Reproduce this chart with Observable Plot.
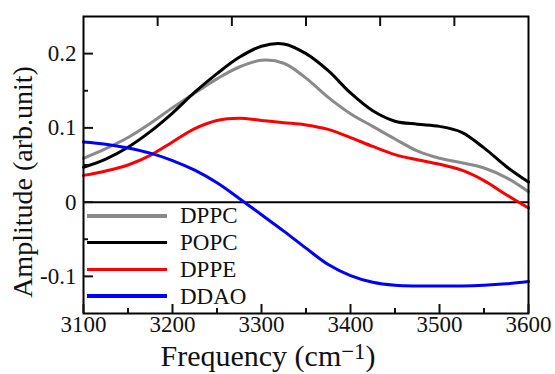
<!DOCTYPE html>
<html><head><meta charset="utf-8">
<script src="https://cdn.jsdelivr.net/npm/d3@7"></script>
<script src="https://cdn.jsdelivr.net/npm/@observablehq/plot@0.6"></script>
<style>
body{margin:0;background:#fff;}
#wrap{position:relative;width:555px;height:374px;font-family:"Liberation Serif","DejaVu Serif","Noto Serif",serif;}
#legend{position:absolute;left:87px;top:202.6px;}
.row{display:flex;align-items:center;height:26.7px;}
.sw{width:80px;height:3.5px;margin-right:13px;}
.lab{font-size:23px;line-height:1;color:#111;}
</style></head><body><div id="wrap"><div id="legend"></div></div>
<script>
const frequency = [3100,3125,3150,3175,3200,3225,3250,3275,3300,3325,3350,3375,3400,3425,3450,3475,3500,3525,3550,3575,3600];
const dppc = [0.059,0.072,0.087,0.106,0.127,0.147,0.166,0.182,0.191,0.187,0.167,0.141,0.119,0.102,0.085,0.069,0.059,0.053,0.046,0.033,0.014];
const popc = [0.047,0.058,0.074,0.095,0.120,0.148,0.173,0.195,0.210,0.213,0.200,0.177,0.147,0.123,0.109,0.105,0.102,0.094,0.073,0.048,0.027];
const dppe = [0.036,0.042,0.050,0.063,0.081,0.099,0.110,0.113,0.110,0.107,0.104,0.098,0.087,0.075,0.064,0.057,0.051,0.043,0.029,0.010,-0.008];
const ddao = [0.081,0.078,0.073,0.066,0.056,0.043,0.026,0.005,-0.017,-0.039,-0.062,-0.084,-0.099,-0.108,-0.112,-0.113,-0.113,-0.113,-0.112,-0.110,-0.107];
const seriesNames = ["DPPC","POPC","DPPE","DDAO"];
const seriesColors = ["#8a8a8a","#000000","#ff0000","#0000ff"];
const seriesValues = [dppc, popc, dppe, ddao];
const xMajorTicks = [3100,3200,3300,3400,3500,3600];
const xMinorTicks = [3150,3250,3350,3450,3550];
const xTopTicks = [3183.3,3266.7,3350,3433.3,3516.7];
const yMajorTicks = [-0.1,0,0.1,0.2];
const yMinorTicks = [-0.05,0.05,0.15];
const xTitle = "Frequency (cm";
const xTitleSup = "−1";
const yTitle = "Amplitude (arb.unit)";

const rows = [];
seriesNames.forEach((name, i) => {
  frequency.forEach((f, j) => rows.push({name, color: seriesColors[i], x: f, y: seriesValues[i][j]}));
});

const blank = () => "";
const fmt = d => String(d);
const FONT = '"Liberation Serif","DejaVu Serif","Noto Serif",serif';

const chart = Plot.plot({
  width: 555, height: 374,
  marginLeft: 83, marginRight: 27, marginTop: 16, marginBottom: 61,
  x: {domain: [3100, 3600]},
  y: {domain: [-0.15, 0.25]},
  style: {fontFamily: FONT, background: "#fff", color: "#111", overflow: "visible"},
  marks: [
    Plot.ruleY([0], {stroke: "#000", strokeWidth: 2}),
    ...seriesNames.map((name, i) => Plot.line(rows.filter(r => r.name === name), {x: "x", y: "y", stroke: seriesColors[i], strokeWidth: 3, curve: "catmull-rom"})),
    Plot.frame({stroke: "#000", strokeWidth: 2}),
    Plot.axisX({ticks: xMajorTicks, tickSize: 9, dy: -9, tickFormat: blank, strokeWidth: 2, label: null}),
    Plot.axisX({ticks: xMinorTicks, tickSize: 5, dy: -5, tickFormat: blank, strokeWidth: 2, label: null}),
    Plot.axisX({anchor: "top", ticks: xTopTicks, tickSize: 9, dy: 9, tickFormat: blank, strokeWidth: 2, label: null}),
    Plot.axisX({ticks: xMajorTicks, tickSize: 0, tickPadding: 2, tickFormat: fmt, fontSize: 23, label: null}),
    Plot.axisY({ticks: yMajorTicks, tickSize: 10, dx: 10, tickFormat: blank, strokeWidth: 2, label: null}),
    Plot.axisY({ticks: yMinorTicks, tickSize: 5, dx: 5, tickFormat: blank, strokeWidth: 2, label: null}),
    Plot.axisY({ticks: yMajorTicks, tickSize: 0, tickPadding: 7, tickFormat: fmt, fontSize: 23, label: null}),
    Plot.text([xTitle], {frameAnchor: "bottom-left", dx: 77, dy: 43, textAnchor: "start", lineAnchor: "middle", fontSize: 30}),
    Plot.text([yTitle], {frameAnchor: "left", dx: -60, dy: 17, rotate: -90, textAnchor: "middle", lineAnchor: "middle", fontSize: 28})
  ]
});
document.getElementById("wrap").appendChild(chart);

d3.select(chart).selectAll("text").filter(function() { return this.textContent === xTitle; }).each(function() {
  const t = d3.select(this);
  t.append("tspan").attr("dy", "-0.3em").attr("font-size", "0.76em").text(xTitleSup);
  t.append("tspan").attr("dy", "0.23em").text(")");
});

const legend = d3.select("#legend");
seriesNames.forEach((name, i) => {
  const row = legend.append("div").attr("class", "row");
  row.append("div").attr("class", "sw").style("background", seriesColors[i]);
  row.append("div").attr("class", "lab").text(name);
});
</script>
</body></html>
